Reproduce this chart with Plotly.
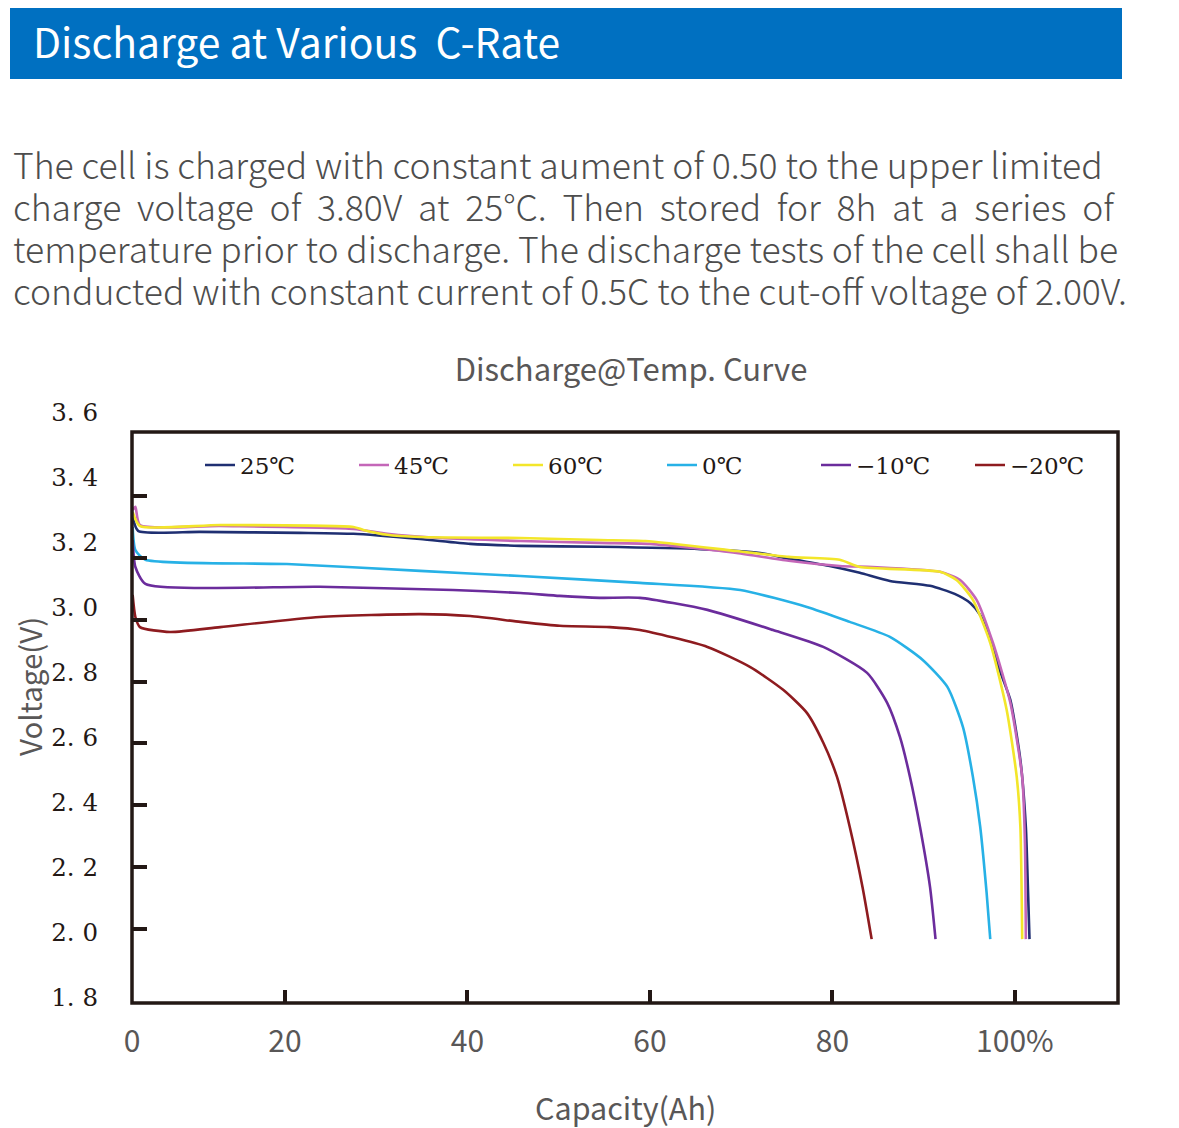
import plotly.graph_objects as go

# ---------------- data ----------------
series_names = ["25℃", "45℃", "60℃", "0℃", "−10℃", "−20℃"]
series_colors = ["#1f2f72", "#c466b8", "#f3e62a", "#27b1e6", "#6b2c9c", "#8e1b1f"]

cap_25 = [3.3, 3.9, 10.7, 21.6, 27.5, 34.8, 40.3, 45.8, 54.5, 65.5, 72.1, 75.3, 79.7, 83.0, 86.3, 90.7, 93.4, 95.1, 96.2, 97.3, 98.4, 99.5, 100.6, 101.2, 101.4, 101.6]
volt_25 = [3.277, 3.234, 3.231, 3.228, 3.225, 3.209, 3.194, 3.188, 3.185, 3.178, 3.166, 3.148, 3.126, 3.105, 3.080, 3.065, 3.040, 3.012, 2.975, 2.898, 2.800, 2.714, 2.529, 2.323, 2.160, 1.978]

cap_45 = [3.3, 3.6, 4.1, 12.9, 27.5, 31.2, 37.0, 45.8, 54.5, 60.0, 69.5, 75.2, 80.8, 84.4, 91.8, 94.0, 95.8, 97.6, 99.5, 100.8, 101.1, 101.2]
volt_45 = [3.298, 3.308, 3.252, 3.249, 3.240, 3.225, 3.212, 3.203, 3.197, 3.194, 3.166, 3.142, 3.126, 3.123, 3.108, 3.083, 3.022, 2.889, 2.705, 2.477, 2.274, 1.978]

cap_60 = [3.3, 4.1, 12.9, 27.5, 28.6, 31.2, 34.8, 45.8, 54.5, 59.5, 69.5, 75.2, 80.8, 83.0, 91.8, 93.6, 95.4, 97.3, 99.1, 100.2, 100.6, 100.8]
volt_60 = [3.292, 3.249, 3.252, 3.246, 3.237, 3.222, 3.215, 3.212, 3.206, 3.203, 3.172, 3.154, 3.145, 3.123, 3.108, 3.083, 3.022, 2.889, 2.683, 2.477, 2.323, 1.978]

cap_0 = [3.3, 3.6, 4.7, 20.2, 34.8, 45.8, 58.9, 69.9, 77.2, 81.9, 86.3, 89.9, 92.6, 94.3, 95.4, 96.2, 96.9, 97.3]
volt_0 = [3.246, 3.175, 3.145, 3.132, 3.111, 3.095, 3.074, 3.052, 3.000, 2.954, 2.908, 2.837, 2.754, 2.631, 2.477, 2.323, 2.120, 1.978]

cap_m10 = [3.3, 3.6, 4.7, 23.8, 38.4, 45.8, 50.1, 54.5, 58.9, 66.3, 73.5, 79.0, 83.8, 86.0, 87.4, 88.5, 89.6, 90.7, 91.3]
volt_m10 = [3.206, 3.123, 3.071, 3.062, 3.052, 3.043, 3.034, 3.028, 3.028, 2.991, 2.929, 2.877, 2.797, 2.705, 2.600, 2.477, 2.323, 2.138, 1.978]

cap_m20 = [3.3, 3.6, 4.1, 7.4, 12.9, 23.8, 34.8, 40.3, 45.8, 50.1, 55.6, 58.9, 66.3, 71.0, 74.6, 77.2, 79.0, 80.5, 81.9, 83.3, 84.3]
volt_m20 = [3.037, 2.969, 2.938, 2.923, 2.938, 2.969, 2.978, 2.972, 2.954, 2.942, 2.938, 2.929, 2.877, 2.815, 2.745, 2.674, 2.582, 2.477, 2.323, 2.138, 1.978]

x_tick_vals = [3.23, 20, 40, 60, 80, 100]
x_tick_text = ["0", "20", "40", "60", "80", "100%"]
y_tick_vals = [1.8, 2.0, 2.2, 2.4, 2.6, 2.8, 3.0, 3.2, 3.4, 3.6]
y_tick_text = ["1. 8", "2. 0", "2. 2", "2. 4", "2. 6", "2. 8", "3. 0", "3. 2", "3. 4", "3. 6"]
y_mark_vals = [2.0, 2.2, 2.4, 2.6, 2.8, 3.0, 3.2, 3.4]

NB = " \u00a0"
header_text = "Discharge at Various \u00a0C-Rate"
para_lines = [
    "The cell is charged with constant aument of 0.50 to the upper limited",
    NB.join("charge voltage of 3.80V at 25°C. Then stored for 8h at a series of".split(" ")),
    "temperature prior to discharge. The discharge tests of the cell shall be",
    "conducted with constant current of 0.5C to the cut-off voltage of 2.00V.",
]
chart_title = "Discharge@Temp. Curve"
x_title = "Capacity(Ah)"
y_title = "Voltage(V)"

# ---------------- figure ----------------
caps = [cap_25, cap_45, cap_60, cap_0, cap_m10, cap_m20]
volts = [volt_25, volt_45, volt_60, volt_0, volt_m10, volt_m20]

SANS = "Noto Sans CJK SC, Noto Sans, sans-serif"
SERIF = "DejaVu Serif, Liberation Serif, serif"
INK = "#231815"
GREY = "#595757"

fig = go.Figure()
for name, col, xs, ys in zip(series_names, series_colors, caps, volts):
    fig.add_trace(go.Scatter(x=xs, y=ys, name=name, mode="lines",
                             line=dict(color=col, width=2.6, shape="spline", smoothing=0.6),
                             hoverinfo="x+y+name"))
# carrier for the tick-mark axis
fig.add_trace(go.Scatter(x=[], y=[], yaxis="y2", showlegend=False, hoverinfo="skip"))

# page is rendered with an 8px body margin; positions below are reference pixels
OFF = 8
W, H = 1179, 1128
L = 132 - OFF
R = W - (1118 - OFF)
T = 409 - OFF
B = H - (1003 - OFF)
plot_w = W - L - R
plot_h = H - T - B


def px_x(px):
    return (px - OFF - L) / plot_w


def px_y(py):
    return (H - B - (py - OFF)) / plot_h


fig.update_layout(
    width=W, height=H,
    margin=dict(l=L, r=R, t=T, b=B),
    paper_bgcolor="white", plot_bgcolor="white",
    font=dict(family=SANS, color=GREY),
    title=dict(text=chart_title, x=px_x(631), xref="paper", xanchor="center",
               y=1 - (370 - OFF) / H, yref="container", yanchor="middle",
               font=dict(family=SANS, size=31, color=GREY)),
    showlegend=True,
    legend=dict(orientation="h", x=px_x(200), xanchor="left", y=px_y(465), yanchor="middle",
                bgcolor="rgba(0,0,0,0)", font=dict(family=SERIF, size=23, color=INK),
                entrywidth=109, entrywidthmode="pixels", itemwidth=30, traceorder="normal"),
    xaxis=dict(range=[3.23, 111.3], tickmode="array", tickvals=x_tick_vals, ticktext=x_tick_text,
               ticks="inside", ticklen=13, tickwidth=3.5, tickcolor=INK,
               showgrid=False, zeroline=False, showline=False,
               ticklabelstandoff=18,
               tickfont=dict(family=SANS, size=30, color=GREY)),
    yaxis=dict(range=[1.7815, 3.609], tickmode="array", tickvals=y_tick_vals, ticktext=y_tick_text,
               ticks="", showgrid=False, zeroline=False, showline=False,
               ticklabelstandoff=33,
               tickfont=dict(family=SERIF, size=24.5, color=INK)),
    yaxis2=dict(range=[1.761, 3.681], overlaying="y", side="left", anchor="x",
                tickmode="array", tickvals=y_mark_vals, showticklabels=False,
                ticks="inside", ticklen=15, tickwidth=3.5, tickcolor=INK,
                showgrid=False, zeroline=False, showline=False),
)

shapes = [
    # header bar
    dict(type="rect", xref="paper", yref="paper", x0=px_x(10), x1=px_x(1122), y0=px_y(79), y1=px_y(7),
         fillcolor="#0070c1", line=dict(width=0), layer="below"),
    # plot frame
    dict(type="rect", xref="paper", yref="paper", x0=0, x1=1, y0=0, y1=px_y(432),
         fillcolor="rgba(0,0,0,0)", line=dict(color=INK, width=3.5), layer="above"),
]
fig.update_layout(shapes=shapes)

annotations = [
    dict(text=header_text, xref="paper", yref="paper", x=px_x(31), y=px_y(41),
         xanchor="left", yanchor="middle", showarrow=False,
         font=dict(family=SANS, size=40.8, color="white")),
    dict(text=y_title, xref="paper", yref="paper", x=px_x(29), y=px_y(687),
         xanchor="center", yanchor="middle", showarrow=False, textangle=-90,
         font=dict(family=SANS, size=29.5, color=GREY)),
    dict(text=x_title, xref="paper", yref="paper", x=px_x(625), y=px_y(1107),
         xanchor="center", yanchor="middle", showarrow=False,
         font=dict(family=SANS, size=30.5, color=GREY)),
]
line_y = [163, 205, 247, 289]
for txt, ly in zip(para_lines, line_y):
    annotations.append(dict(text=txt, xref="paper", yref="paper", x=px_x(11), y=px_y(ly),
                            xanchor="left", yanchor="middle", showarrow=False,
                            font=dict(family=SANS, size=35.5, color="#4d4d4d", weight=300)))
fig.update_layout(annotations=annotations)

fig.write_html("out.html")
